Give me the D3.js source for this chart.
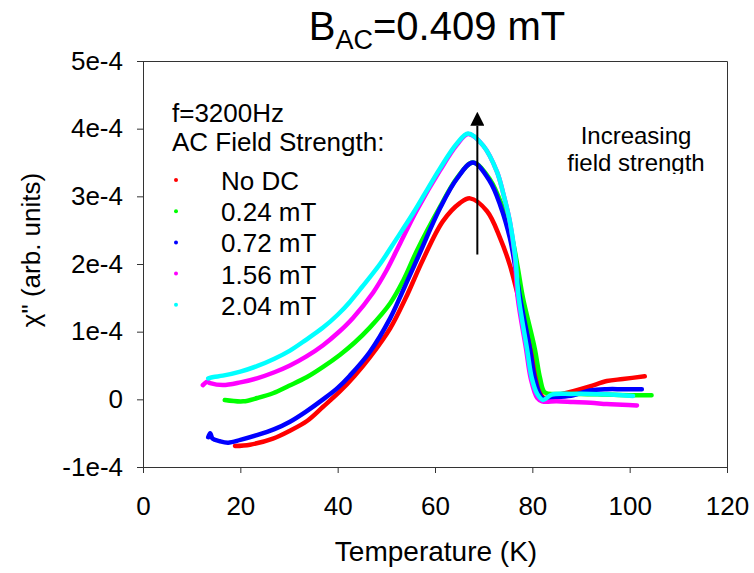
<!DOCTYPE html>
<html>
<head>
<meta charset="utf-8">
<script src="https://cdn.jsdelivr.net/npm/d3@7"></script>
<style>
  body { margin: 0; background: #fff; }
  text { font-family: "Liberation Sans", Arial, sans-serif; fill: #000; }
</style>
</head>
<body>
<div id="grafica"></div>
<script>
// datos: [Temperatura (K), chi'' en unidades de 1e-4]
var noDC = [[18.9,-0.69],[22,-0.67],[26.7,-0.58],[30,-0.47],[33.7,-0.32],[37,-0.11],[40.5,0.12],[43.5,0.35],[46.6,0.62],[50.8,1.05],[54,1.5],[57.5,2.06],[61.6,2.63],[65.1,2.9],[67.2,2.97],[70.7,2.78],[73.4,2.38],[75.4,1.98],[76.8,1.6],[77.8,1.3],[79.9,0.75],[81.2,0.27],[82.2,0.03],[85,0.06],[88.4,0.12],[91.8,0.19],[95.3,0.27],[98.6,0.3],[103.1,0.34]];
var mT024 = [[16.8,-0.01],[20.6,-0.03],[23.5,0.02],[26.7,0.09],[30,0.2],[33.7,0.33],[37,0.48],[40.5,0.66],[43.5,0.84],[46.6,1.06],[50.8,1.42],[53.5,1.76],[56.3,2.2],[61,2.84],[64.5,3.27],[67.8,3.5],[71.3,3.25],[74,2.82],[75.8,2.4],[77,1.95],[78.1,1.49],[80.5,0.75],[81.6,0.31],[82.6,0.1],[85,0.08],[90,0.08],[95,0.07],[100,0.06],[104.5,0.06]];
var mT072 = [[13.4,-0.56],[13.8,-0.5],[14.3,-0.58],[15.8,-0.62],[17.5,-0.64],[20,-0.6],[23.4,-0.53],[27,-0.44],[30.2,-0.33],[33.5,-0.18],[37,0.0],[40,0.17],[42.5,0.35],[46.6,0.7],[50.8,1.2],[53.5,1.62],[56.5,2.1],[61,2.82],[64.5,3.26],[67.8,3.5],[71.3,3.22],[73.4,2.87],[75.4,2.38],[76.5,1.95],[77.5,1.49],[79.5,0.75],[80.5,0.31],[81.5,0.08],[82.2,0.01],[85,0.03],[88.4,0.06],[91.8,0.13],[95.3,0.15],[98.6,0.15],[102.5,0.15]];
var mT156 = [[12.3,0.21],[13.2,0.26],[13.8,0.24],[16.4,0.21],[20,0.25],[23.4,0.31],[27,0.4],[30.2,0.5],[33.5,0.63],[37,0.8],[40,0.98],[43.1,1.2],[47.3,1.58],[50,1.9],[53,2.33],[56.3,2.8],[61,3.38],[64.5,3.76],[66.8,3.92],[69.9,3.75],[72.7,3.37],[74,3.05],[75.4,2.62],[76.4,2.1],[77,1.5],[78.7,0.75],[79.7,0.3],[81,0.02],[82,-0.03],[85,-0.03],[88.4,-0.04],[92,-0.05],[95.3,-0.07],[98.5,-0.08],[101.5,-0.09]];
var mT204 = [[13.4,0.31],[14.5,0.33],[16.4,0.35],[20,0.41],[23.4,0.49],[27,0.6],[30.2,0.72],[33.5,0.88],[37,1.06],[40,1.25],[42.5,1.44],[45,1.66],[48.7,2.0],[52,2.36],[55.5,2.75],[58,3.05],[61,3.41],[64.5,3.78],[66.8,3.93],[69.9,3.75],[72.7,3.37],[74,3.05],[75.4,2.62],[76.5,2.1],[77.2,1.5],[78.9,0.75],[79.9,0.31],[81,0.08],[82.2,-0.01],[84,0.07],[88,0.08],[92,0.08],[96,0.07],[100.7,0.05]];

var series = [noDC, mT024, mT072, mT156, mT204];
var nombres = ["No DC", "0.24 mT", "0.72 mT", "1.56 mT", "2.04 mT"];
var colores = ["#ff0000", "#00ff00", "#0000ff", "#ff00ff", "#00ffff"];

var xTicks = [0, 20, 40, 60, 80, 100, 120];
var yTicks = [-1, 0, 1, 2, 3, 4, 5];
var yTickLabels = ["-1e-4", "0", "1e-4", "2e-4", "3e-4", "4e-4", "5e-4"];

// flecha "campo creciente": [T, chi]
var flecha = {T: 68.7, desde: 2.14, hasta: 4.25};

grafica();

function grafica(){
	var W = 754, H = 573;
	var margin = {top: 61, bottom: 106, left: 143, right: 27};
	var ancho = W - margin.left - margin.right;
	var alto = H - margin.top - margin.bottom;

	var svg = d3.select("#grafica")
		.append("svg")
		.attr("width", W)
		.attr("height", H);

	var g = svg.append("g")
		.attr("transform", "translate(" + margin.left + "," + margin.top + ")");

	var escalaX = d3.scaleLinear().domain([0, 120]).range([0, ancho]);
	var escalaY = d3.scaleLinear().domain([-1, 5]).range([alto, 0]);

	// marco superior y derecho
	g.append("path")
		.attr("d", "M0,0.5H" + (ancho + 0.5) + "V" + alto)
		.style("fill", "none")
		.style("stroke", "#333")
		.style("stroke-width", 1);

	// ejes
	var ejeX = g.append("g")
		.attr("transform", "translate(0," + alto + ")")
		.call(d3.axisBottom(escalaX).tickValues(xTicks).tickSize(6).tickPadding(24).tickSizeOuter(0));
	var ejeY = g.append("g")
		.call(d3.axisLeft(escalaY).tickValues(yTicks).tickSize(6).tickPadding(14).tickSizeOuter(0)
			.tickFormat(function(d, i){ return yTickLabels[i]; }));

	[ejeX, ejeY].forEach(function(e){
		e.selectAll("path, line").style("stroke", "#333");
		e.selectAll("text")
			.style("font-family", "'Liberation Sans', Arial, sans-serif")
			.style("font-size", "26px")
			.style("fill", "#000");
	});

	// curvas
	var linea = d3.line()
		.x(function(d){ return escalaX(d[0]); })
		.y(function(d){ return escalaY(d[1]); })
		.curve(d3.curveCatmullRom.alpha(0.5));

	g.selectAll(".linea")
		.data(series)
		.enter()
		.append("path")
		.attr("class", "linea")
		.attr("d", linea)
		.style("fill", "none")
		.style("stroke", function(d, i){ return colores[i]; })
		.style("stroke-width", 4.5)
		.style("stroke-linejoin", "round")
		.style("stroke-linecap", "round");

	// flecha
	svg.append("defs").append("marker")
		.attr("id", "punta")
		.attr("viewBox", "0 0 10 10")
		.attr("refX", 0).attr("refY", 5)
		.attr("markerWidth", 7).attr("markerHeight", 7)
		.attr("markerUnits", "strokeWidth")
		.attr("orient", "auto")
		.append("path")
		.attr("d", "M0,0L10,5L0,10Z")
		.style("fill", "#000");

	var px = escalaX(flecha.T);
	g.append("line")
		.attr("x1", px).attr("x2", px)
		.attr("y1", escalaY(flecha.desde))
		.attr("y2", escalaY(flecha.hasta) + 14)
		.style("stroke", "#000")
		.style("stroke-width", 2)
		.attr("marker-end", "url(#punta)");

	// leyenda
	var ley = svg.append("g");
	ley.append("text").attr("x", 172).attr("y", 122).style("font-size", "26px").text("f=3200Hz");
	ley.append("text").attr("x", 172).attr("y", 151).style("font-size", "26px").text("AC Field Strength:");
	nombres.forEach(function(n, i){
		var y = 190 + i * 31.2;
		ley.append("circle").attr("cx", 176).attr("cy", y - 10).attr("r", 2).style("fill", colores[i]);
		ley.append("text").attr("x", 221).attr("y", y).style("font-size", "26px").text(n);
	});

	// anotacion recortada
	svg.append("clipPath").attr("id", "recorte")
		.append("rect").attr("x", 540).attr("y", 110).attr("width", 190).attr("height", 64);
	var nota = svg.append("g").attr("clip-path", "url(#recorte)");
	nota.append("text").attr("x", 636).attr("y", 144).attr("text-anchor", "middle").style("font-size", "24px").text("Increasing");
	nota.append("text").attr("x", 636).attr("y", 171).attr("text-anchor", "middle").style("font-size", "24px").text("field strength");

	// titulo
	var titulo = svg.append("text")
		.attr("x", 437).attr("y", 40)
		.attr("text-anchor", "middle")
		.style("font-size", "40px");
	titulo.append("tspan").text("B");
	titulo.append("tspan").attr("dy", 9).style("font-size", "27px").text("AC");
	titulo.append("tspan").attr("dy", -9).text("=0.409 mT");

	// titulos de ejes
	svg.append("text")
		.attr("x", 436).attr("y", 561)
		.attr("text-anchor", "middle")
		.style("font-size", "28px")
		.text("Temperature (K)");
	svg.append("text")
		.attr("transform", "translate(40,250) rotate(-90)")
		.attr("text-anchor", "middle")
		.style("font-size", "26px")
		.text("\u03C7\" (arb. units)");
}
</script>
</body>
</html>
